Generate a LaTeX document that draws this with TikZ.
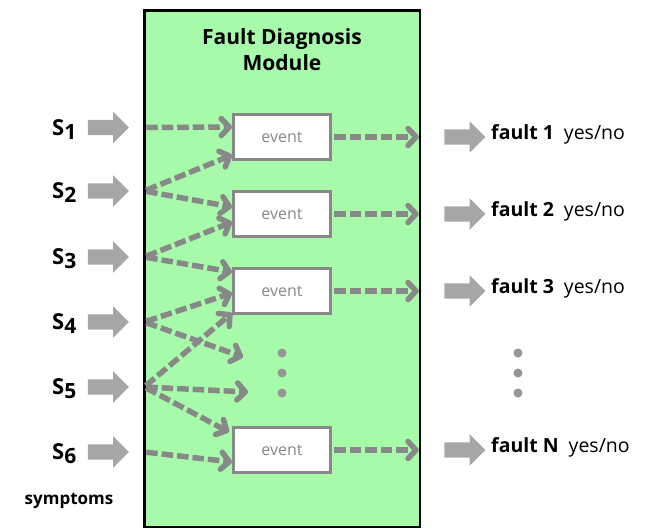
\documentclass[tikz,border=0pt]{standalone}
\usepackage{fontspec}
\setmainfont{Open Sans}
\usetikzlibrary{arrows.meta,shapes.arrows}
\definecolor{boxgreen}{RGB}{166,250,170}
\definecolor{dgray}{RGB}{136,136,136}
\definecolor{agray}{RGB}{166,166,166}
\definecolor{dotgray}{RGB}{150,150,150}
\tikzset{
  blockarrow/.style={single arrow, fill=agray, draw=none, minimum height=41pt,
    text height=15pt, text depth=0pt, text width=0pt,
    single arrow head extend=8pt, inner sep=0pt,
    single arrow head indent=0pt},
  evbox/.style={draw=dgray, line width=3pt, fill=white, minimum width=97pt,
    minimum height=45pt, inner sep=0pt, text=dgray, font=\fontsize{16}{18}\selectfont},
  flow/.style={draw=dgray, line width=5.5pt, dash pattern=on 11.5pt off 4pt,
    shorten <=2pt,
    -{Straight Barb[length=8pt,width=17pt,line cap=round,line join=round]}},
  symlabel/.style={anchor=base west, inner sep=0pt, font=\bfseries\fontsize{22}{24}\selectfont},
  faultlabel/.style={anchor=base west, inner sep=0pt, font=\fontsize{19.5}{22}\selectfont},
  dotc/.style={circle, fill=dotgray, draw=none, minimum size=9pt, inner sep=0pt},
}
\newcommand{\symS}[1]{S\raisebox{-4pt}{\fontsize{21}{22}\selectfont #1}}
\begin{document}
\begin{tikzpicture}[x=1pt,y=-1pt]
\useasboundingbox (0,0) rectangle (656,530);
% module box
\node[draw=black, line width=2.5pt, fill=boxgreen, minimum width=275.5pt,
  minimum height=516.5pt, outer sep=0pt, inner sep=0pt] (fdm) at (282,268.5) {};
\node[align=center, font=\bfseries\fontsize{21}{26}\selectfont] (title) at (282,50)
  {Fault Diagnosis\\Module};
% event boxes
\node[evbox] (ev1) at (282,137) {event};
\node[evbox] (ev2) at (282,214) {event};
\node[evbox] (ev3) at (282,291) {event};
\node[evbox] (evN) at (282,450) {event};
% input arrows
\node[blockarrow] (in1) at (104.5,127.5) {};
\node[blockarrow] (in2) at (104.5,191) {};
\node[blockarrow] (in3) at (104.5,257) {};
\node[blockarrow] (in4) at (104.5,322) {};
\node[blockarrow] (in5) at (104.5,387) {};
\node[blockarrow] (in6) at (104.5,452) {};
\node[symlabel] (l1) at (52,135) {\symS{1}};
\node[symlabel] (l2) at (52,198.5) {\symS{2}};
\node[symlabel] (l3) at (52,264.5) {\symS{3}};
\node[symlabel] (l4) at (52,329.5) {\symS{4}};
\node[symlabel] (l5) at (52,394.5) {\symS{5}};
\node[symlabel] (l6) at (52,459.5) {\symS{6}};
\node[font=\bfseries\fontsize{17}{19}\selectfont] (sym) at (69,501) {symptoms};
% output arrows
\node[blockarrow] (out1) at (461,137) {};
\node[blockarrow] (out2) at (461,214) {};
\node[blockarrow] (out3) at (461,291) {};
\node[blockarrow] (outN) at (461,450) {};
\node[faultlabel] (f1) at (491,139) {\textbf{fault 1}\hspace{10pt}yes/no};
\node[faultlabel] (f2) at (491,216) {\textbf{fault 2}\hspace{10pt}yes/no};
\node[faultlabel] (f3) at (491,293) {\textbf{fault 3}\hspace{10pt}yes/no};
\node[faultlabel] (fN) at (491,452) {\textbf{fault N}\hspace{10pt}yes/no};
% dots
\node[dotc] (da) at (282,353) {};
\node[dotc] (db) at (282,373) {};
\node[dotc] (dc) at (282,393) {};
\node[dotc] (ra) at (518,353) {};
\node[dotc] (rb) at (518,373) {};
\node[dotc] (rc) at (518,393) {};
\coordinate (m4) at (243,357);
\coordinate (m5) at (248,392);
% flows from symptoms
\draw[flow] (fdm.west |- in1) -- ([yshift=10pt]ev1.west);
\draw[flow] (fdm.west |- in2) -- ([yshift=-18pt]ev1.west);
\draw[flow] (fdm.west |- in2) -- ([yshift=7pt]ev2.west);
\draw[flow] (fdm.west |- in3) -- ([yshift=-8pt]ev2.west);
\draw[flow] (fdm.west |- in3) -- ([yshift=19pt]ev3.west);
\draw[flow] (fdm.west |- in4) -- ([yshift=-2pt]ev3.west);
\draw[flow] (fdm.west |- in4) -- (m4);
\draw[flow] (fdm.west |- in5) -- ([yshift=-22pt]ev3.west);
\draw[flow] (fdm.west |- in5) -- (m5);
\draw[flow] (fdm.west |- in5) -- ([xshift=-3pt,yshift=18pt]evN.west);
\draw[flow] (fdm.west |- in6) -- ([yshift=-12pt]evN.west);
% flows to faults
\draw[flow] (ev1.east) -- ([xshift=-1pt]fdm.east |- ev1);
\draw[flow] (ev2.east) -- ([xshift=-1pt]fdm.east |- ev2);
\draw[flow] (ev3.east) -- ([xshift=-1pt]fdm.east |- ev3);
\draw[flow] (evN.east) -- ([xshift=-1pt]fdm.east |- evN);
\end{tikzpicture}
\end{document}
